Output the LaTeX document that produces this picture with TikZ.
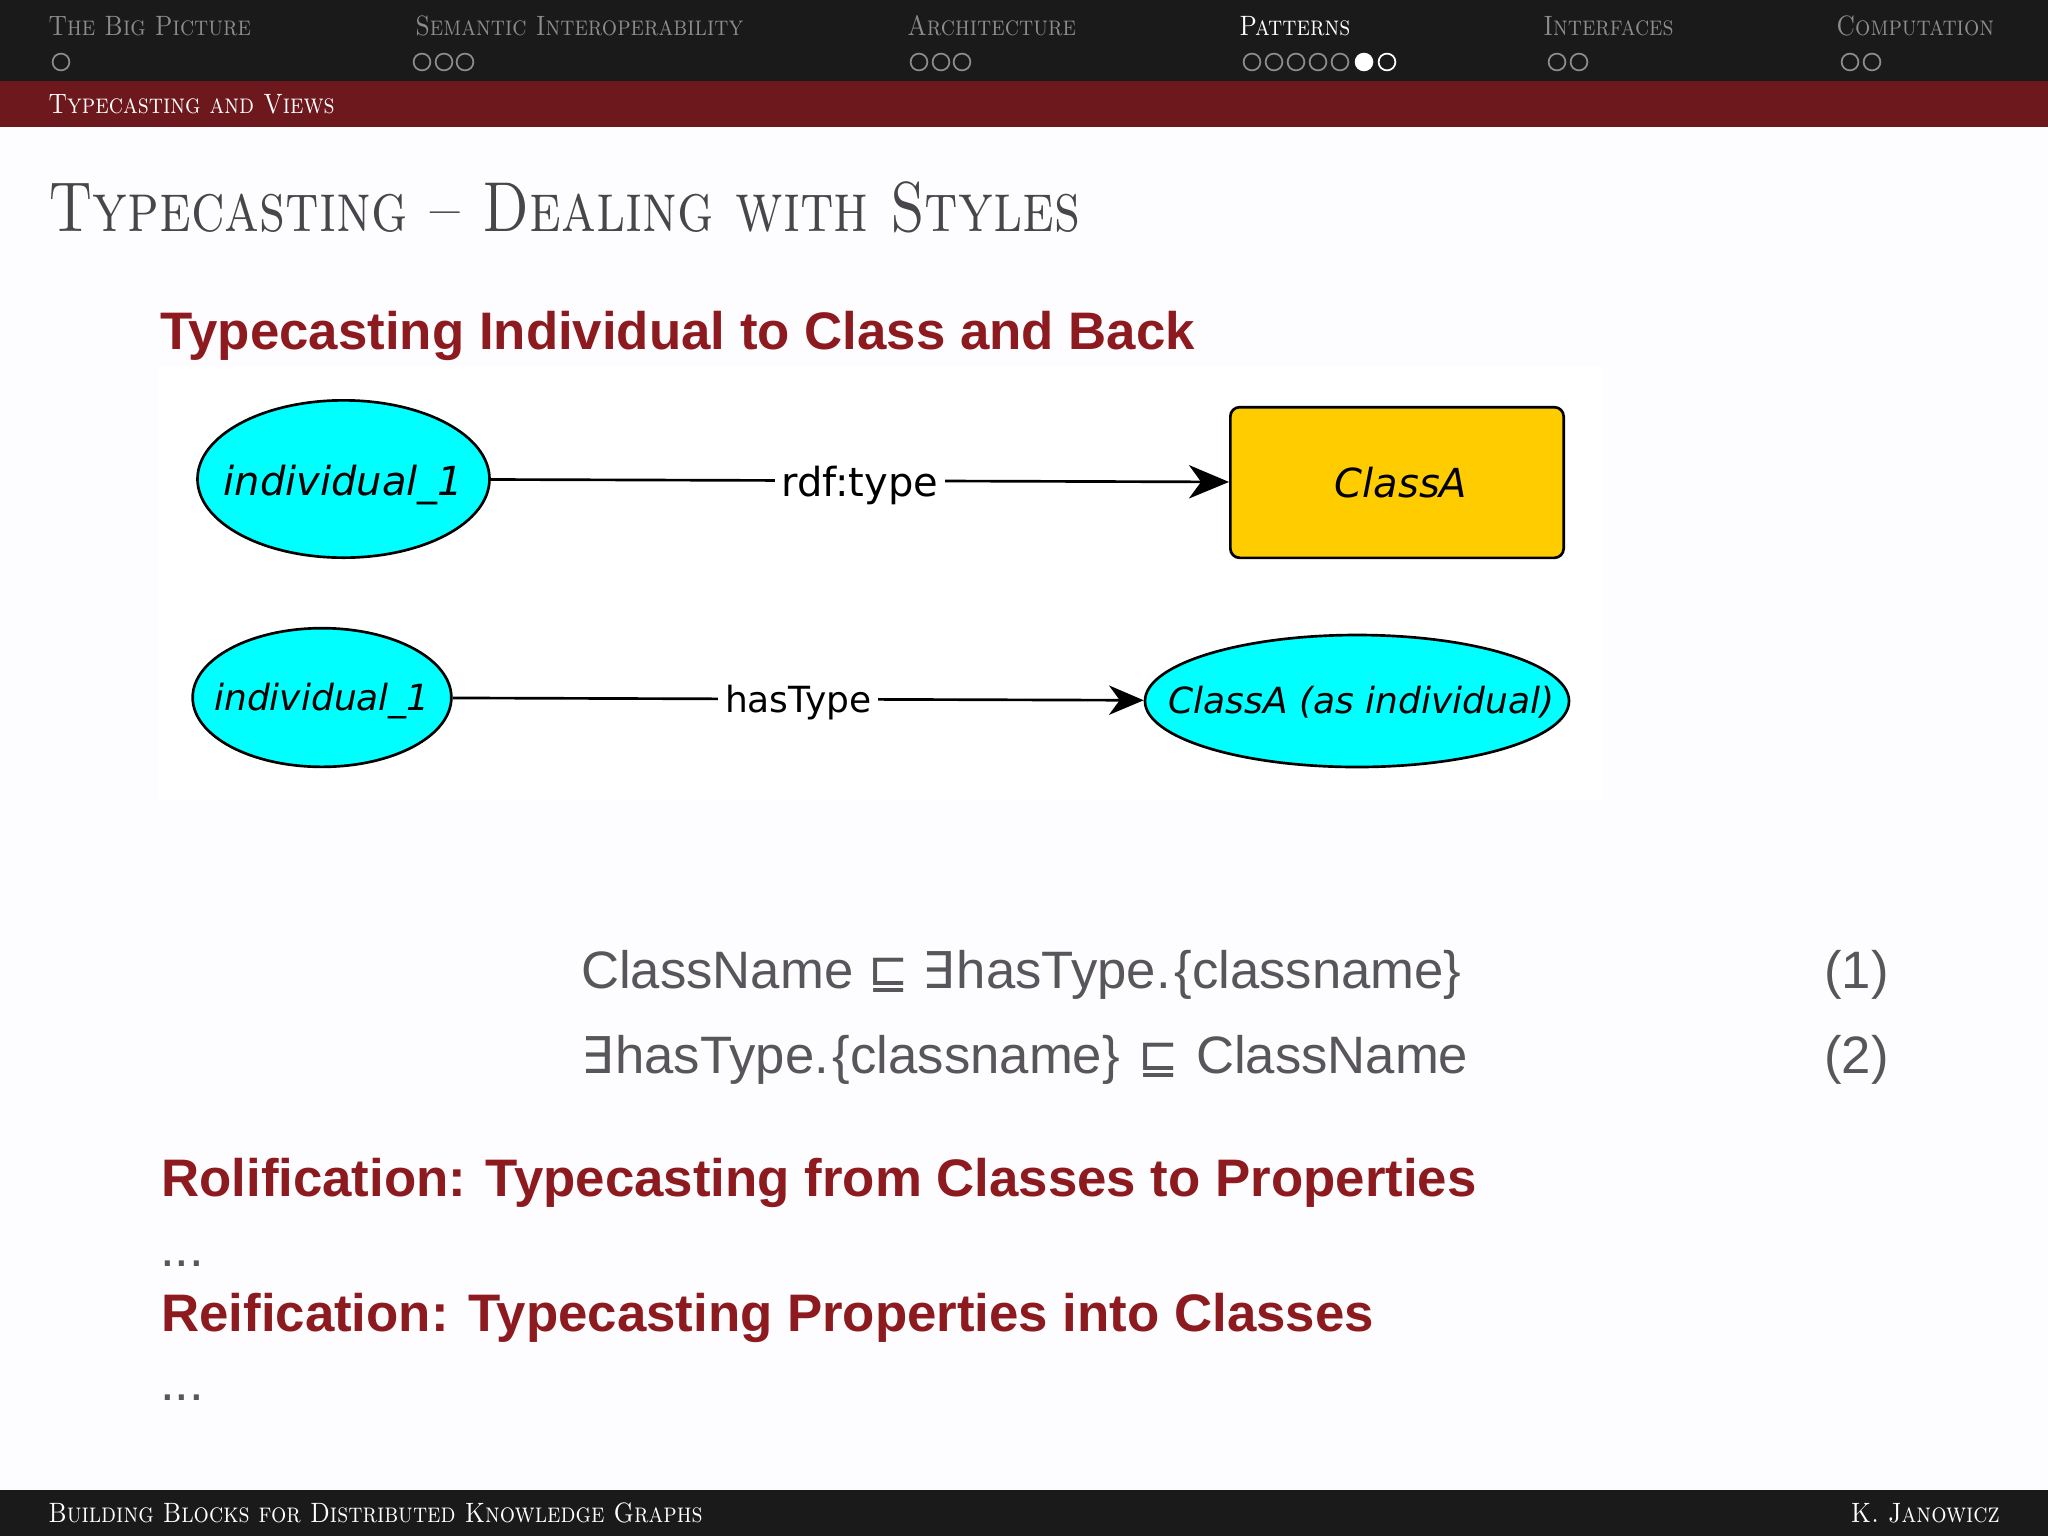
\documentclass[tikz,border=0pt]{standalone}
\usepackage{graphicx}
\usepackage{fontspec}
\usepackage{tikz}
\usetikzlibrary{arrows.meta,shapes.geometric}
\newfontfamily\helv{Liberation Sans}
\newfontfamily\dejavu{DejaVu Sans}
\newcommand{\capsbox}[1]{\scalebox{0.86}[1]{#1}}
\newcommand{\notewidth}[2][-12pt]{\raisebox{#1}[0pt][0pt]{\makebox[0pt]{#2}}}
\newcommand{\subsym}{{\dejavu\fontsize{36}{40}\selectfont ⊑}}
\newcommand{\exsym}{{\dejavu\fontsize{38}{40}\selectfont ∃}}
\definecolor{barblack}{HTML}{1A1A1A}
\definecolor{barred}{HTML}{6D181C}
\definecolor{navgrey}{HTML}{8C8C8C}
\definecolor{headred}{HTML}{8C1A1F}
\definecolor{bodygrey}{HTML}{58565A}
\definecolor{titlegrey}{HTML}{48464A}
\definecolor{indcyan}{HTML}{00FFFF}
\definecolor{classgold}{HTML}{FFCC00}
\definecolor{slidewhite}{HTML}{FDFCFE}
\tikzset{
  navtext/.style={anchor=base west,inner sep=0pt,text=navgrey,font=\fontsize{21}{24}\selectfont\scshape},
  navdot/.style={circle,draw=navgrey,line width=1.3pt,minimum size=12.6pt,inner sep=0pt},
  bartext/.style={anchor=base west,inner sep=0pt,text=white,font=\fontsize{21}{24}\selectfont\scshape},
  headtext/.style={anchor=base west,inner sep=0pt,text=headred,font=\helv\bfseries\fontsize{39.6}{44}\selectfont},
  bodytext/.style={anchor=base west,inner sep=0pt,text=bodygrey,font=\helv\fontsize{39.5}{44}\selectfont},
  indnode/.style={ellipse,draw=black,line width=2pt,fill=indcyan,inner sep=0pt,font=\dejavu\itshape\fontsize{30}{33}\selectfont},
  classnode/.style={rectangle,rounded corners=7pt,draw=black,line width=2pt,fill=classgold,inner sep=0pt,font=\dejavu\itshape\fontsize{30}{33}\selectfont},
  edgeline/.style={draw=black,line width=2pt,-{Stealth[length=30pt,width=25pt,inset=9pt]}},
  edgelabel/.style={fill=white,inner xsep=5pt,inner ysep=3pt,font=\dejavu\fontsize{30}{33}\selectfont}
}
\begin{document}
\begin{tikzpicture}[x=0.75pt,y=0.75pt,yscale=-1,xscale=1]
\useasboundingbox (0,0) rectangle (2048,1536);

%Shape: slide and bars
\fill[slidewhite] (0,0) rectangle (2048,1536);
\fill[white] (158,366) rectangle (1603,800);
\fill[barblack] (0,0) rectangle (2048,81);
\fill[barred] (0,81) rectangle (2048,127);
\fill[barblack] (0,1490) rectangle (2048,1536);

% Text Node
\draw (48,35) node [navtext] (navBig) {\capsbox{The Big Picture}};
\draw (415,35) node [navtext] (navSemantic) {\capsbox{Semantic Interoperability}};
\draw (907,35) node [navtext] (navArch) {\capsbox{Architecture}};
\draw (1239,35) node [navtext,text=white] (navPatterns) {\capsbox{Patterns}};
\draw (1543,35) node [navtext] (navInterfaces) {\capsbox{Interfaces}};
\draw (1836,35) node [navtext] (navComputation) {\capsbox{Computation}};

%Shape: Circle
\draw (61,62) node [navdot] (dotBig) {};
\draw (422,62) node [navdot] (dotSemA) {};
\draw (444,62) node [navdot] (dotSemB) {};
\draw (465,62) node [navdot] (dotSemC) {};
\draw (919,62) node [navdot] (dotArchA) {};
\draw (941,62) node [navdot] (dotArchB) {};
\draw (962,62) node [navdot] (dotArchC) {};
\draw (1252,62) node [navdot] (dotPatA) {};
\draw (1274,62) node [navdot] (dotPatB) {};
\draw (1296,62) node [navdot] (dotPatC) {};
\draw (1318,62) node [navdot] (dotPatD) {};
\draw (1340,62) node [navdot] (dotPatE) {};
\draw (1364,62) node [navdot,draw=white,fill=white] (dotPatF) {};
\draw (1387,62) node [navdot,draw=white] (dotPatG) {};
\draw (1557,62) node [navdot] (dotIntA) {};
\draw (1579,62) node [navdot] (dotIntB) {};
\draw (1850,62) node [navdot] (dotCompA) {};
\draw (1872,62) node [navdot] (dotCompB) {};

% Text Node
\draw (48,113) node [bartext] (subTitle) {\capsbox{Typecasting and Views}};
\draw (48,231) node [anchor=base west,inner sep=0pt,text=titlegrey,font=\fontsize{53}{56}\selectfont\scshape] (slideTitle) {\scalebox{0.805}[1]{Typecasting -- Dealing with Styles}};
\draw (160,349) node [headtext] (headTypecasting) {Typecasting Individual to Class and Back};

%Shape: graph nodes
\draw (343.5,479) node [indnode,minimum width=219pt,minimum height=118pt] (individualA) {\notewidth{individual\_1}};
\draw (1397,482.5) node [classnode,minimum width=250pt,minimum height=113pt] (classA) {\notewidth[-11.5pt]{\hspace{6pt}ClassA}};
\draw (322,697.5) node [indnode,minimum width=194pt,minimum height=104pt,font=\dejavu\itshape\fontsize{27}{30}\selectfont] (individualB) {\notewidth[-10pt]{individual\_1}};
\draw (1357,701) node [indnode,minimum width=318pt,minimum height=99pt,font=\dejavu\itshape\fontsize{27}{30}\selectfont] (classInd) {\notewidth[-9pt]{\hspace{7pt}ClassA (as individual)}};

\draw [edgeline] (individualA) -- node [edgelabel] (labelType) {\raisebox{-11.5pt}[0pt][0pt]{rdf:type}} (classA);
\draw [edgeline,-{Stealth[length=26pt,width=22pt,inset=8pt]}] (individualB) -- node [edgelabel,font=\dejavu\fontsize{27}{30}\selectfont] (labelHasType) {\raisebox{-10pt}[0pt][0pt]{hasType}} (classInd);

% Text Node
\draw (581,988) node [bodytext] (eqOne) {ClassName \subsym\ \exsym\kern1.5pt hasType.\kern3pt\{classname\}};
\draw (581,1073) node [bodytext] (eqTwo) {\exsym\kern1.5pt hasType.\kern3pt\{classname\}\kern3pt\ \subsym\kern2pt\ ClassName};
\draw (1824,988) node [bodytext] (numOne) {(1)};
\draw (1824,1073) node [bodytext] (numTwo) {(2)};
\draw (161,1196) node [headtext] (headRolification) {Rolification: Typecasting from Classes to Properties};
\draw (160,1266) node [bodytext] (dotsOne) {...};
\draw (161,1331) node [headtext] (headReification) {Reification: Typecasting Properties into Classes};
\draw (160,1400) node [bodytext] (dotsTwo) {...};

% Text Node
\draw (48,1522) node [bartext] (footLeft) {\capsbox{Building Blocks for Distributed Knowledge Graphs}};
\draw (2000,1522) node [bartext,anchor=base east] (footRight) {\capsbox{K. Janowicz}};

\end{tikzpicture}
\end{document}
